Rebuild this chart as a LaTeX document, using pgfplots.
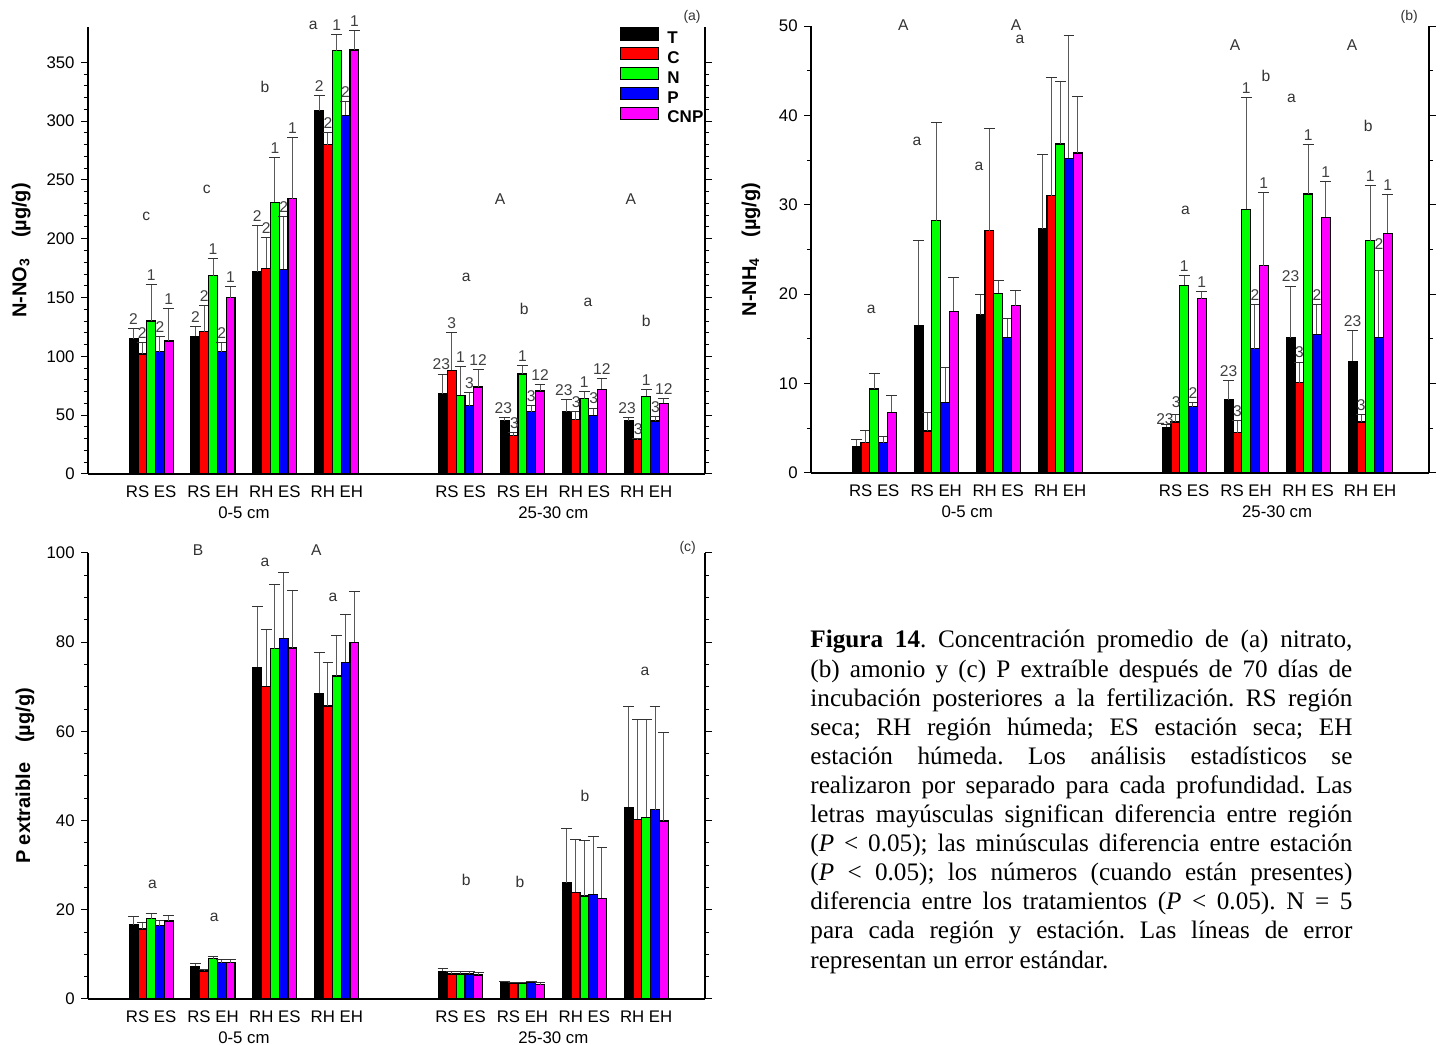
\documentclass[border=0pt]{standalone}
\usepackage{pgfplots}
\pgfplotsset{compat=1.18}
\usepackage{pgfplotstable}
\usepackage{fontspec}
\setmainfont{Liberation Sans}
\newfontfamily\capfont{Liberation Serif}
\definecolor{mgt}{RGB}{255,0,255}
\definecolor{grn}{RGB}{0,255,0}
\definecolor{blu}{RGB}{0,0,255}
\definecolor{rd}{RGB}{255,0,0}

\newcommand\tickfont{\fontsize{8.4}{10}\selectfont}
\newcommand\labfont{\fontsize{10}{12}\selectfont\bfseries}
\newcommand\smallfont{\fontsize{7.8}{9}\selectfont}

\pgfplotstableread{
x T Te C Ce N Ne P Pe X Xe
1 115 9 102 10 130 31 104 13 113 28
2 117 8 121 22 168.5 14.5 104 8 150 9
3 172 39 175 26 231 38 174 45 234 52
4 309 13 280 10 360 14 305 12 360.5 16.5
6 68 17 88 32 67 24 58 11 74 15
7 45 3 32.5 2.5 85 7 53 5 70.5 5.5
8 53 10 46 7 64 6 50 6 72 9.5
9 45 3 29 1 66 5.5 45 4 60 4
}\dataA

\pgfplotstableread{
x T Te C Ce N Ne P Pe X Xe
1 3.0 0.8 3.4 1.3 9.4 1.7 3.4 0.7 6.8 1.9
2 16.5 9.5 4.7 2.1 28.2 11.0 7.9 3.9 18.1 3.8
3 17.7 2.3 27.1 11.4 20.1 1.4 15.2 2.1 18.7 1.7
4 27.3 8.3 31.0 13.2 36.8 7.0 35.2 13.7 35.8 6.3
6 5.1 0.3 5.7 0.8 21.0 1.1 7.4 0.5 19.5 0.8
7 8.2 2.1 4.5 1.4 29.5 12.5 13.9 5.0 23.2 8.2
8 15.1 5.8 10.1 2.3 31.2 5.5 15.5 3.3 28.6 4.0
9 12.5 3.4 5.7 0.8 26.0 6.2 15.2 7.5 26.8 4.4
}\dataB

\pgfplotstableread{
x T Te C Ce N Ne P Pe X Xe
1 16.6 2.0 15.7 1.5 18.0 1.2 16.4 1.1 17.5 1.2
2 7.3 0.7 6.3 0.4 9.0 0.5 8.1 0.7 8.1 0.7
3 74.4 13.7 70.1 12.7 78.5 14.4 80.9 14.8 78.7 13.0
4 68.5 9.1 65.7 9.7 72.4 9.1 75.5 10.7 80.0 11.4
6 6.2 0.6 5.6 0.6 5.6 0.6 5.6 0.6 5.4 0.6
7 3.7 0.3 3.6 0.2 3.6 0.2 3.7 0.3 3.2 0.4
8 26.1 12.2 23.9 11.9 23.1 12.4 23.5 13.0 22.6 11.3
9 43.0 22.5 40.3 22.4 40.7 22.0 42.4 23.1 39.9 19.8
}\dataC

\pgfplotsset{
  panel/.style={
    scale only axis, ybar, bar width=4.4pt,
    xmin=-0.02, xmax=9.95, ymin=0,
    axis x line*=bottom, axis y line*=box,
    xtick={1,2,3,4,6,7,8,9},
    xticklabels={RS ES,RS EH,RH ES,RH EH,RS ES,RS EH,RH ES,RH EH},
    major x tick style={draw=none},
    tick align=outside, major tick length=3.5pt, minor tick length=2pt,
    tick style={black, line width=0.5pt},
    axis line style={black, line width=0.7pt},
    yticklabel style={font=\tickfont, inner sep=0pt, xshift=-3pt},
    xticklabel style={font=\tickfont, inner sep=0pt, anchor=north, text height=6.2pt, text depth=0.2pt, yshift=-2pt},
    /pgf/number format/assume math mode=true,
    clip=false,
    error bars/y dir=plus, error bars/y explicit,
    error bars/error bar style={line width=0.5pt, black!65},
    error bars/error mark options={rotate=90, mark size=2.7pt, line width=0.5pt, black!80},
    ylabel style={font=\labfont, at={(axis description cs:#1,0.5)}, anchor=center},
  },
}
\tikzset{
  sig/.style={font=\smallfont, text=black!80, inner sep=0pt},
  num/.style={font=\smallfont, text=black!75, inner sep=0pt, anchor=south, yshift=1.8pt},
  dep/.style={font=\tickfont, anchor=north, inner sep=0pt, yshift=-16.3pt},
}

\newcommand\barset[1]{%
  \addplot[fill=black, draw=black, line width=0.6pt, bar shift=-8.8pt] table[x=x,y=T,y error=Te]{#1};
  \addplot[fill=rd, draw=black, line width=0.6pt, bar shift=-4.4pt] table[x=x,y=C,y error=Ce]{#1};
  \addplot[fill=grn, draw=black, line width=0.6pt, bar shift=0pt] table[x=x,y=N,y error=Ne]{#1};
  \addplot[fill=blu, draw=black, line width=0.6pt, bar shift=4.4pt] table[x=x,y=P,y error=Pe]{#1};
  \addplot[fill=mgt, draw=black, line width=0.6pt, bar shift=8.8pt] table[x=x,y=X,y error=Xe]{#1};
}
\newcommand\nl[3]{\node[num] at (axis cs:#1,#2) {#3};}
\newcommand\sg[3]{\node[sig] at (axis cs:#1,#2) {#3};}

\begin{document}
\begin{tikzpicture}
\path[use as bounding box] (0pt,0pt) rectangle (721pt,522.5pt);

% ---------------- panel (a)
\begin{axis}[panel=-0.108, at={(44pt,285.5pt)}, anchor=south west,
  width=308.5pt, height=223.5pt, ymax=380,
  ytick={0,50,...,350}, minor y tick num=4,
  ylabel={N-NO\textsubscript{3}\quad (µg/g)},
  legend style={at={(0.862,1.0)}, anchor=north west, draw=none, fill=none,
    font=\fontsize{8.5}{9}\selectfont\bfseries, inner sep=0pt, row sep=0.9pt,
    nodes={inner sep=0pt, text height=6.2pt, text depth=0.8pt},
    /tikz/every odd column/.append style={column sep=4pt}},
  legend cell align=left,
  legend image code/.code={\draw[#1, line width=0.6pt] (0pt,-0.8pt) rectangle (19pt,5.2pt);},
]
\barset{\dataA}
\legend{T,C,N,P,CNP}
\nl{0.716}{124}{2}\nl{0.858}{112}{2}\nl{1}{161}{1}\nl{1.142}{117}{2}\nl{1.284}{141}{1}
\nl{1.716}{125}{2}\nl{1.858}{143}{2}\nl{2}{183}{1}\nl{2.142}{112}{2}\nl{2.284}{159}{1}
\nl{2.716}{211}{2}\nl{2.858}{201}{2}\nl{3}{269}{1}\nl{3.142}{219}{2}\nl{3.284}{286}{1}
\nl{3.716}{322}{2}\nl{3.858}{290}{2}\nl{4}{374}{1}\nl{4.142}{317}{2}\nl{4.284}{377}{1}
\nl{5.69}{85}{23}\nl{5.858}{120}{3}\nl{6}{91}{1}\nl{6.142}{69}{3}\nl{6.284}{89}{12}
\nl{6.69}{48}{23}\nl{6.87}{35}{3}\nl{7}{92}{1}\nl{7.142}{58}{3}\nl{7.284}{76}{12}
\nl{7.67}{63}{23}\nl{7.87}{53}{3}\nl{8}{70}{1}\nl{8.15}{56}{3}\nl{8.284}{81.5}{12}
\nl{8.69}{48}{23}\nl{8.87}{30}{3}\nl{9}{71.5}{1}\nl{9.15}{49}{3}\nl{9.284}{64}{12}
\sg{0.92}{219}{c}\sg{1.90}{242}{c}\sg{2.84}{329}{b}\sg{3.62}{381}{a}
\sg{6.64}{234}{A}\sg{8.75}{234}{A}
\sg{6.09}{167}{a}\sg{7.03}{140}{b}\sg{8.06}{146}{a}\sg{9.0}{130}{b}
\node[sig, font=\fontsize{7}{8}\selectfont] at (rel axis cs:0.979,1) [yshift=5pt] {(a)};
\node[dep] at (axis cs:2.5,0) {0-5 cm};
\node[dep] at (axis cs:7.5,0) {25-30 cm};
\end{axis}

% ---------------- panel (b)
\begin{axis}[panel=-0.097, at={(405.5pt,286pt)}, anchor=south west,
  width=309pt, height=223.5pt, ymax=50,
  ytick={0,10,...,50}, minor y tick num=1,
  ylabel={N-NH\textsubscript{4}\quad (µg/g)},
]
\barset{\dataB}
\nl{5.69}{5.0}{23}\nl{5.87}{6.9}{3}\nl{6}{22.1}{1}\nl{6.142}{7.9}{2}\nl{6.284}{20.3}{1}
\nl{6.716}{10.3}{23}\nl{6.858}{5.9}{3}\nl{7}{42.0}{1}\nl{7.142}{18.9}{2}\nl{7.284}{31.4}{1}
\nl{7.716}{20.9}{23}\nl{7.858}{12.4}{3}\nl{8}{36.7}{1}\nl{8.142}{18.8}{2}\nl{8.284}{32.6}{1}
\nl{8.716}{15.9}{23}\nl{8.858}{6.5}{3}\nl{9}{32.2}{1}\nl{9.142}{24.5}{2}\nl{9.284}{31.2}{1}
\sg{0.95}{18.3}{a}\sg{1.69}{37.1}{a}\sg{2.69}{34.3}{a}\sg{3.35}{48.5}{a}
\sg{1.47}{50.1}{A}\sg{3.29}{50.1}{A}
\sg{6.02}{29.4}{a}\sg{6.82}{47.9}{A}\sg{7.32}{44.4}{b}\sg{7.73}{41.9}{a}
\sg{8.71}{47.9}{A}\sg{8.97}{38.8}{b}
\node[sig, font=\fontsize{7}{8}\selectfont] at (rel axis cs:0.968,1) [yshift=4.5pt] {(b)};
\node[dep] at (axis cs:2.5,0) {0-5 cm};
\node[dep] at (axis cs:7.5,0) {25-30 cm};
\end{axis}

% ---------------- panel (c)
\begin{axis}[panel=-0.102, at={(44pt,23pt)}, anchor=south west,
  width=308.5pt, height=223pt, ymax=100,
  ytick={0,20,...,100}, minor y tick num=3,
  ylabel={P extraible\quad (µg/g)},
]
\barset{\dataC}
\sg{1.02}{25.8}{a}\sg{2.02}{18.4}{a}\sg{2.84}{98.0}{a}
\sg{1.76}{100.7}{B}\sg{3.67}{100.7}{A}\sg{3.94}{90.1}{a}
\sg{6.09}{26.7}{b}\sg{6.96}{26.2}{b}\sg{8.01}{45.5}{b}\sg{8.98}{73.5}{a}
\node[sig, font=\fontsize{7}{8}\selectfont] at (rel axis cs:0.972,1) [yshift=2.5pt] {(c)};
\node[dep] at (axis cs:2.5,0) {0-5 cm};
\node[dep] at (axis cs:7.5,0) {25-30 cm};
\end{axis}

% ---------------- caption
\node[anchor=base west, inner sep=0pt] at (405pt,198.5pt) {\begin{minipage}[t]{271pt}%
\capfont\fontsize{12.6}{14.55}\selectfont\setlength{\parindent}{0pt}\frenchspacing%
\textbf{Figura 14}. Concentración promedio de (a) nitrato,\linebreak
(b) amonio y (c) P extraíble después de 70 días de\linebreak
incubación posteriores a la fertilización. RS región\linebreak
seca; RH región húmeda; ES estación seca; EH\linebreak
estación húmeda. Los análisis estadísticos se\linebreak
realizaron por separado para cada profundidad. Las\linebreak
letras mayúsculas significan diferencia entre región\linebreak
(\textit{P} < 0.05); las minúsculas diferencia entre estación\linebreak
(\textit{P} < 0.05); los números (cuando están presentes)\linebreak
diferencia entre los tratamientos (\textit{P} < 0.05). N = 5\linebreak
para cada región y estación. Las líneas de error\linebreak
representan un error estándar.
\end{minipage}};
\end{tikzpicture}
\end{document}
